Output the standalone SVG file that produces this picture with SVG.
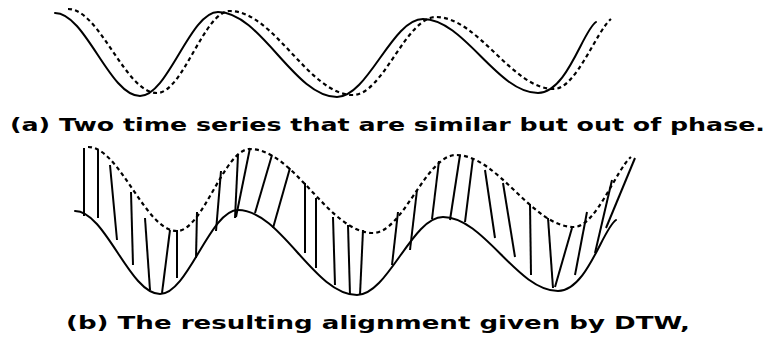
<svg xmlns="http://www.w3.org/2000/svg" width="772" height="339" viewBox="0 0 772 339">
<style>
.solid{fill:none;stroke:#000;stroke-width:2;stroke-linecap:round}
.dash{fill:none;stroke:#000;stroke-width:2.2;stroke-dasharray:4 3.2}
.al line{stroke:#000;stroke-width:2;stroke-linecap:butt}
.cap{font-family:"DejaVu Sans","Verdana",sans-serif;font-weight:bold;font-size:17px;fill:#000}
</style>
<defs>
<path id="sol" d="M55,13 C85.6,13 109.4,96 140,96 C168,96 190,12 218,12 C261,12 294,97 337,97 C368,97 392,19 423,19 C464,19 497,93 538,93 C567,93 583,30 596,22"/>
<path id="dsh" d="M68,9 C100,9 125,93 157,93 C183,93 204,11 230,11 C274,11 309,95 353,95 C383,95 406,17 436,17 C478,17 512,89 554,89 C576,89 597,30 611,19"/>
</defs>
<rect width="772" height="339" fill="#fff"/>
<g id="panel-a">
<use href="#sol" class="solid"/>
<use href="#dsh" class="dash"/>
</g>
<text id="caption-a" class="cap" x="10" y="131" textLength="755" lengthAdjust="spacingAndGlyphs">(a) Two time series that are similar but out of phase.</text>
<g id="panel-b">
<use href="#sol" class="solid" transform="translate(20,198)"/>
<use href="#dsh" class="dash" transform="translate(20,138)"/>
</g>
<g id="connectors" class="al">
<line x1="84" y1="148" x2="84" y2="216"/>
<line x1="98" y1="150" x2="98" y2="218"/>
<line x1="110" y1="165" x2="117" y2="240"/>
<line x1="131" y1="192" x2="133" y2="265"/>
<line x1="145" y1="218" x2="150" y2="290"/>
<line x1="170" y1="230" x2="162" y2="293"/>
<line x1="177" y1="230" x2="177" y2="278"/>
<line x1="197" y1="212" x2="196" y2="258"/>
<line x1="221" y1="171" x2="216" y2="231"/>
<line x1="238" y1="155" x2="235" y2="218"/>
<line x1="250" y1="148" x2="236" y2="217"/>
<line x1="272" y1="155" x2="255" y2="213"/>
<line x1="290" y1="168" x2="273" y2="228"/>
<line x1="305" y1="183" x2="305" y2="253"/>
<line x1="316" y1="198" x2="316" y2="268"/>
<line x1="333" y1="217" x2="335" y2="285"/>
<line x1="348" y1="225" x2="350" y2="295"/>
<line x1="363" y1="230" x2="360" y2="295"/>
<line x1="398" y1="212" x2="392" y2="265"/>
<line x1="417" y1="190" x2="410" y2="250"/>
<line x1="439" y1="161" x2="432" y2="219"/>
<line x1="460" y1="155" x2="450" y2="220"/>
<line x1="473" y1="158" x2="465" y2="222"/>
<line x1="485" y1="170" x2="495" y2="238"/>
<line x1="503" y1="183" x2="515" y2="257"/>
<line x1="530" y1="204" x2="531" y2="275"/>
<line x1="548" y1="218" x2="553" y2="288"/>
<line x1="572" y1="228" x2="555" y2="287"/>
<line x1="587" y1="212" x2="575" y2="275"/>
<line x1="612" y1="180" x2="595" y2="253"/>
<line x1="635" y1="158" x2="606" y2="228"/>
</g>
<text id="caption-b" class="cap" x="66" y="329" textLength="624" lengthAdjust="spacingAndGlyphs">(b) The resulting alignment given by DTW,</text>
</svg>
